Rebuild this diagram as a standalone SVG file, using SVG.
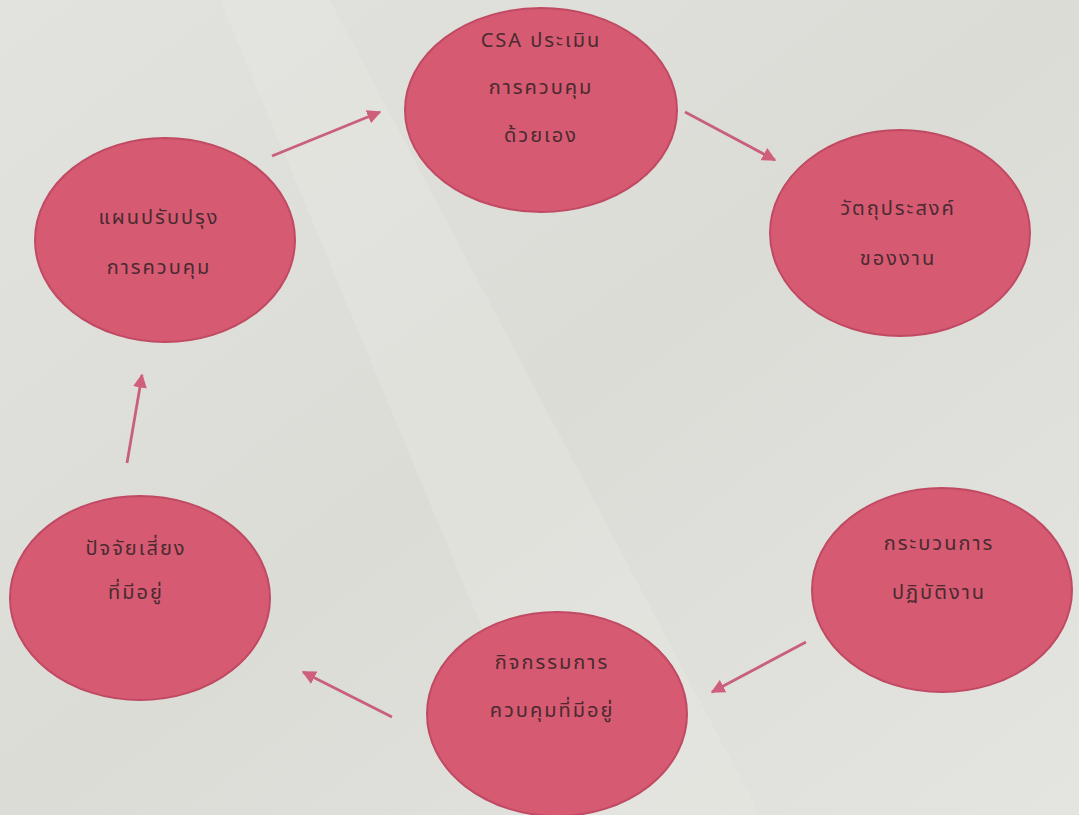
<svg xmlns="http://www.w3.org/2000/svg" width="1079" height="815" viewBox="0 0 1079 815">
<defs>
<linearGradient id="bg" x1="0" y1="0" x2="1" y2="1">
<stop offset="0" stop-color="#e2e2de"/>
<stop offset="0.5" stop-color="#dcdcd7"/>
<stop offset="1" stop-color="#e4e4e0"/>
</linearGradient>
<marker id="ah" viewBox="0 0 10 10" refX="9" refY="5" markerWidth="5" markerHeight="5" orient="auto" markerUnits="strokeWidth">
<path d="M0,0 L10,5 L0,10 z" fill="#cf5f7a"/>
</marker>
</defs>
<style>
.node ellipse{fill:#d65a72;stroke:#c04a63;stroke-width:2}
.node text{font-family:"Noto Sans Thai","Noto Sans","Liberation Sans",sans-serif;font-size:20px;letter-spacing:2px;fill:#4a2a30;text-anchor:middle}
.conn line{stroke:#c9607a;stroke-width:2.8;marker-end:url(#ah)}
</style>
<rect width="1079" height="815" fill="url(#bg)"/>
<polygon points="220,0 330,0 760,815 560,815" fill="#e8e8e4" opacity="0.4"/>
<g class="conn">
<line x1="272" y1="156" x2="380" y2="112"/>
<line x1="685" y1="112" x2="775" y2="160"/>
<line x1="806" y1="642" x2="712" y2="692"/>
<line x1="392" y1="717" x2="303" y2="672"/>
<line x1="127" y1="463" x2="142" y2="375"/>
</g>
<g id="n-csa" class="node">
<ellipse cx="541" cy="110" rx="136" ry="102"/>
<text x="541" y="47">CSA ประเมิน</text>
<text x="541" y="94">การควบคุม</text>
<text x="541" y="142">ด้วยเอง</text>
</g>
<g id="n-objective" class="node">
<ellipse cx="900" cy="233" rx="130" ry="103"/>
<text x="898" y="215">วัตถุประสงค์</text>
<text x="898" y="265">ของงาน</text>
</g>
<g id="n-process" class="node">
<ellipse cx="942" cy="590" rx="130" ry="102"/>
<text x="939" y="550">กระบวนการ</text>
<text x="939" y="599">ปฏิบัติงาน</text>
</g>
<g id="n-activity" class="node">
<ellipse cx="557" cy="714" rx="130" ry="102"/>
<text x="552" y="669">กิจกรรมการ</text>
<text x="552" y="717">ควบคุมที่มีอยู่</text>
</g>
<g id="n-risk" class="node">
<ellipse cx="140" cy="598" rx="130" ry="102"/>
<text x="136" y="555">ปัจจัยเสี่ยง</text>
<text x="136" y="599">ที่มีอยู่</text>
</g>
<g id="n-plan" class="node">
<ellipse cx="165" cy="240" rx="130" ry="102"/>
<text x="159" y="224">แผนปรับปรุง</text>
<text x="159" y="274">การควบคุม</text>
</g>
</svg>
